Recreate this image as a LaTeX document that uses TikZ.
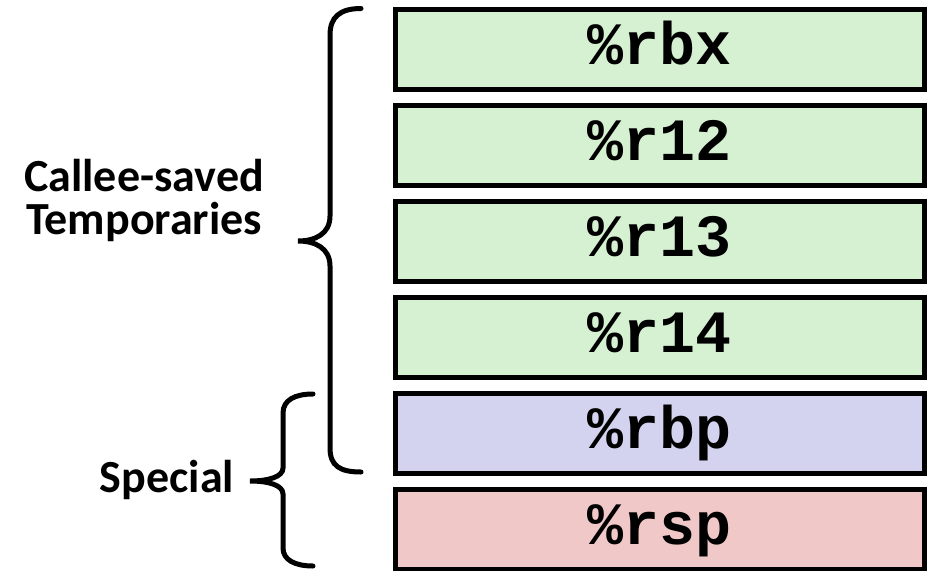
\documentclass[tikz,border=0pt]{standalone}
\usepackage{fontspec}
\setmainfont{Carlito}
\newfontfamily\regfont{Liberation Mono}
\usetikzlibrary{calc}
\definecolor{savedgreen}{RGB}{214,240,210}
\definecolor{specblue}{RGB}{211,211,240}
\definecolor{specred}{RGB}{240,200,200}
\tikzstyle{reg} = [draw, line width = 5pt, minimum width = 529pt, minimum height = 80pt,
					font = \regfont\bfseries\fontsize{60}{62}\selectfont,
					text height = 40pt, text depth = 9pt, inner sep = 0pt]
\tikzstyle{brace} = [line width = 5pt, line cap = round]
\tikzstyle{lbl} = [font = \bfseries\fontsize{46}{43}\selectfont, align = center, inner sep = 0pt]

\begin{document}
\begin{tikzpicture}[x=1pt, y=-1pt]
	\useasboundingbox (0,0) rectangle (928,570);
	
	% Registers
	\foreach \name/\col [count=\i from 0] in {rbx/savedgreen, r12/savedgreen, r13/savedgreen, r14/savedgreen, rbp/specblue, rsp/specred}
	{
		\node[reg, fill=\col] (\name) at (659.7, 49.2+96*\i) {\%\name};
	};
	
	% Braces
	\draw[brace] (361,8.5) .. controls (340,8.5) and (330,17) .. (330,35) -- (330,216)
		.. controls (330,234) and (315,241) .. (298,241)
		.. controls (315,241) and (330,248) .. (330,266) -- (330,448)
		.. controls (330,466) and (340,472) .. (361,472);
	\draw[brace] (313,394) .. controls (295,394) and (283,400) .. (283,413) -- (283,468)
		.. controls (283,477) and (268,481) .. (250,481)
		.. controls (268,481) and (283,485) .. (283,494) -- (283,548)
		.. controls (283,560) and (295,566) .. (313,566);
	
	% Labels
	\node[lbl] (saved) at (144,200) {Callee-saved\\Temporaries};
	\node[lbl] (special) at (167,480) {Special};

\end{tikzpicture}
\end{document}
